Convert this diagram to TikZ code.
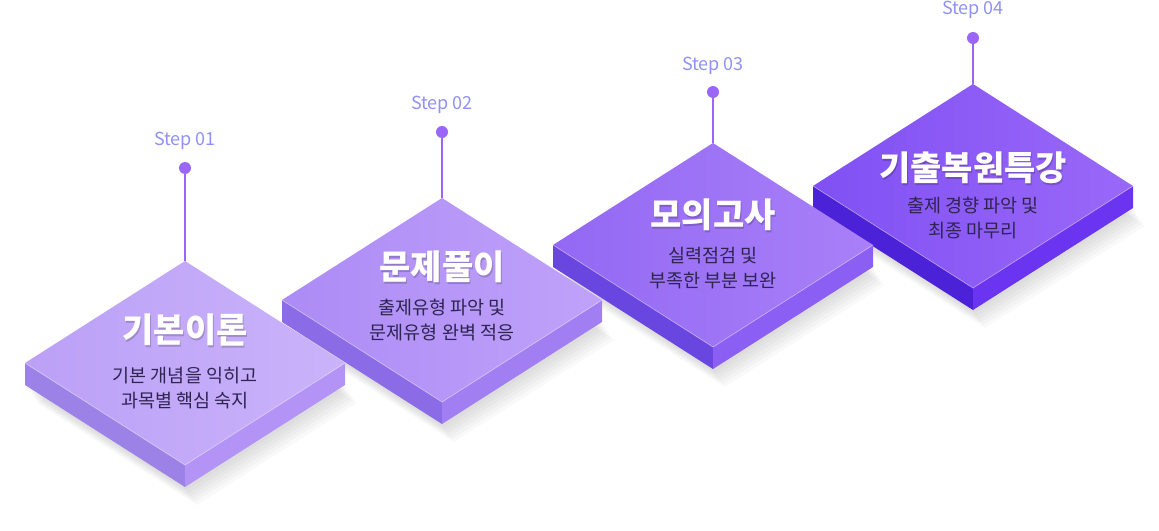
\documentclass[tikz,border=0pt]{standalone}
\usepackage{fontspec}
\setmainfont{Noto Sans CJK KR}
\usetikzlibrary{calc}

\definecolor{stepblue}{HTML}{8F92F0}
\definecolor{pinviolet}{HTML}{9A66F8}
\definecolor{descink}{HTML}{2E2452}
% top face (left/right), side faces (left/right)
\definecolor{topL1}{HTML}{BBA0F6}\definecolor{topR1}{HTML}{CBB3FB}
\definecolor{sideL1}{HTML}{9C82E7}\definecolor{sideR1}{HTML}{B393F6}
\definecolor{topL2}{HTML}{AC8BF5}\definecolor{topR2}{HTML}{C0A2FA}
\definecolor{sideL2}{HTML}{8C6CE6}\definecolor{sideR2}{HTML}{A27EF3}
\definecolor{topL3}{HTML}{9368F4}\definecolor{topR3}{HTML}{A980F8}
\definecolor{sideL3}{HTML}{6A46E0}\definecolor{sideR3}{HTML}{8B5FF3}
\definecolor{topL4}{HTML}{8050F4}\definecolor{topR4}{HTML}{9A68F8}
\definecolor{sideL4}{HTML}{4B22D8}\definecolor{sideR4}{HTML}{6A34F0}

\begin{document}
\begin{tikzpicture}[x=1pt,y=-1pt,
  steplabel/.style={font=\fontsize{18}{20}\selectfont, text=stepblue, anchor=base},
  pin/.style={circle, fill=pinviolet, inner sep=0pt, minimum size=12pt},
  stem/.style={draw=pinviolet, line width=1.5pt},
  tiletitle/.style={font=\fontsize{34}{38}\selectfont\bfseries, text=white},
  titleshadow/.style={font=\fontsize{34}{38}\selectfont\bfseries, text=black, opacity=0.18},
  desc/.style={font=\fontsize{18.5}{25}\selectfont, text=descink, align=center}]
\useasboundingbox (0,0) rectangle (1159,530);

% soft shadows
\foreach \cx/\cy in {973/186,713/245,442/300,185/363}{
  \foreach \k in {1,...,6}
    \fill[black, opacity=0.025] (\cx-160+2*\k,\cy+22+3*\k) -- (\cx+2*\k,\cy+124+3*\k)
      -- (\cx+160+2*\k,\cy+22+3*\k) -- (\cx+2*\k,\cy-80+3*\k) -- cycle;
}

\foreach \n/\cx/\cy/\ty/\dy/\py/\sy/\title/\desc in {
  4/973/186/168/218/38/14/기출복원특강/{출제 경향 파악 및\\최종 마무리},
  3/713/245/215/268/92/70/모의고사/{실력점검 및\\부족한 부분 보완},
  2/442/300/267/320/132/109/문제풀이/{출제유형 파악 및\\문제유형 완벽 적응},
  1/185/363/330/388/168/145/기본이론/{기본 개념을 익히고\\과목별 핵심 숙지}}{
  \coordinate (t\n-t) at (\cx,\cy-102);
  \coordinate (t\n-r) at (\cx+160,\cy);
  \coordinate (t\n-b) at (\cx,\cy+102);
  \coordinate (t\n-l) at (\cx-160,\cy);
  \fill[sideL\n] (t\n-l) -- (t\n-b) -- ($(t\n-b)+(0,22)$) -- ($(t\n-l)+(0,22)$) -- cycle;
  \fill[sideR\n] (t\n-b) -- (t\n-r) -- ($(t\n-r)+(0,22)$) -- ($(t\n-b)+(0,22)$) -- cycle;
  \shade[left color=topL\n, right color=topR\n] (t\n-t) -- (t\n-r) -- (t\n-b) -- (t\n-l) -- cycle;
  \draw[white, opacity=0.35, line width=0.8pt] (t\n-l) -- (t\n-b) -- (t\n-r);
  \node[titleshadow] (title\n-sh) at (\cx+1,\ty+2) {\title};
  \node[tiletitle] (title\n) at (\cx,\ty) {\title};
  \node[desc] (desc\n) at (\cx,\dy) {\desc};
  \node[pin] (pin\n) at (\cx,\py) {};
  \node[steplabel] (step\n) at (\cx,\sy) {Step 0\n};
  \draw[stem] (pin\n) -- (t\n-t);
}
\end{tikzpicture}
\end{document}
